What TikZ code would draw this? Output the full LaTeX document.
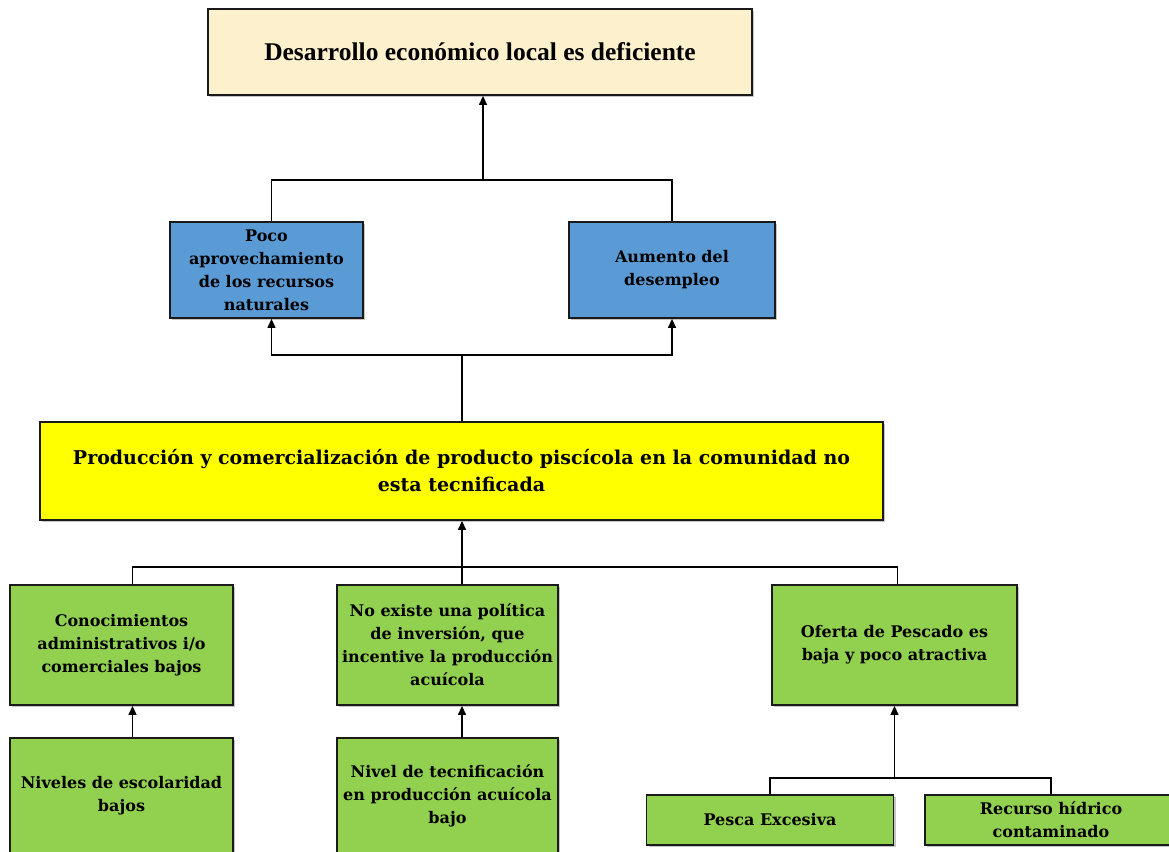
\documentclass[tikz,border=0pt]{standalone}
\usepackage{fontspec}
\setmainfont{DejaVu Serif}
\newfontfamily\topfont{Liberation Serif}
\usetikzlibrary{arrows.meta,shadows,calc}
\definecolor{beige}{HTML}{FDF0CD}
\definecolor{blu}{HTML}{5B9BD5}
\definecolor{grn}{HTML}{92D050}
\definecolor{yel}{HTML}{FFFF00}
\definecolor{edge}{HTML}{1A1A1A}
\tikzset{
  box/.style={draw=edge, line width=1.8pt, rectangle, align=center, inner sep=1pt,
    drop shadow={shadow xshift=2pt, shadow yshift=-2pt, fill=black!45, opacity=0.5},
    font=\bfseries\fontsize{16}{23}\selectfont},
  conn/.style={line width=1.3pt, draw=black},
  arr/.style={conn, -{Triangle[width=8pt,length=9pt]}}
}
\begin{document}
\begin{tikzpicture}[x=1pt,y=-1pt]
\useasboundingbox[fill=white] (0,0) rectangle (1169,851);
\node[box, fill=beige, minimum width=544pt, minimum height=86pt,
  font=\topfont\bfseries\fontsize{25.5}{30}\selectfont] (top) at (480,52) {Desarrollo económico local es deficiente};
\node[box, fill=blu, minimum width=193pt, minimum height=96pt] (b1) at (266.5,270) {Poco\\aprovechamiento\\de los recursos\\naturales};
\node[box, fill=blu, minimum width=206pt, minimum height=96pt] (b2) at (672,270) {Aumento del\\desempleo};
\node[box, fill=yel, minimum width=843pt, minimum height=98pt, font=\bfseries\fontsize{19}{27}\selectfont] (y) at (461.5,471) {Producción y comercialización de producto piscícola en la comunidad no\\esta tecnificada};
\node[box, fill=grn, minimum width=223pt, minimum height=120pt] (g1) at (121.5,645) {Conocimientos\\administrativos i/o\\comerciales bajos};
\node[box, fill=grn, minimum width=221pt, minimum height=120pt] (g2) at (447.5,645) {No existe una política\\de inversión, que\\incentive la producción\\acuícola};
\node[box, fill=grn, minimum width=245pt, minimum height=120pt] (g3) at (894.5,645) {Oferta de Pescado es\\baja y poco atractiva};
\node[box, fill=grn, minimum width=223pt, minimum height=116pt] (g4) at (121.5,796) {Niveles de escolaridad\\bajos};
\node[box, fill=grn, minimum width=221pt, minimum height=116pt] (g5) at (447.5,796) {Nivel de tecnificación\\en producción acuícola\\bajo};
\node[box, fill=grn, minimum width=247pt, minimum height=50pt] (p1) at (770,820) {Pesca Excesiva};
\node[box, fill=grn, minimum width=252pt, minimum height=50pt] (p2) at (1051,820) {Recurso hídrico\\contaminado};

\coordinate (j1) at (483,180);
\coordinate (j2) at (462,355);
\coordinate (j3) at (462,567);
\coordinate (j4) at (894.5,778);

\draw[arr] (j1) -- (top.south -| j1);
\draw[conn] ([xshift=5pt]b1.north) |- (j1) -| (b2.north);
\draw[conn] (y.north -| j2) -- (j2);
\draw[arr] (j2) -| ([xshift=5pt]b1.south);
\draw[arr] (j2) -| (b2.south);
\draw[arr] (j3) -- (y.south -| j3);
\draw[conn] ([xshift=11pt]g1.north) |- (j3) -| ([xshift=3pt]g3.north);
\draw[conn] (g2.north -| j3) -- (j3);
\draw[arr] ([xshift=11pt]g4.north) -- ([xshift=11pt]g1.south);
\draw[arr] (g5.north -| j3) -- (g2.south -| j3);
\draw[arr] (j4) -- (g3.south -| j4);
\draw[conn] (p1.north) |- (j4) -| (p2.north);
\end{tikzpicture}
\end{document}
